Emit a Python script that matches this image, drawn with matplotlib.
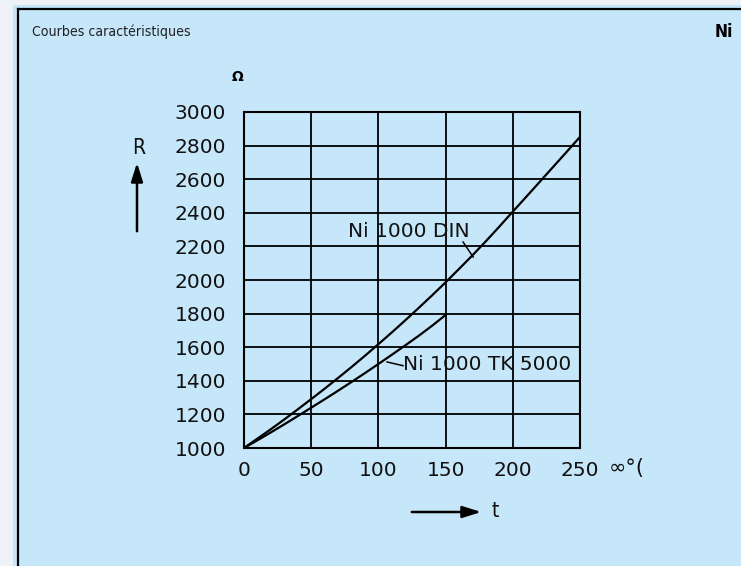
import matplotlib.pyplot as plt
from matplotlib.patches import Rectangle
from matplotlib.lines import Line2D

# data
temp_din = [0, 10, 20, 30, 40, 50, 60, 70, 80, 90, 100, 110, 120, 130, 140, 150,
            160, 170, 180, 190, 200, 210, 220, 230, 240, 250, 255]
res_din = [1000, 1056, 1112, 1170, 1230, 1291, 1353, 1417, 1482, 1549, 1618, 1688, 1760, 1834, 1909, 1986,
           2066, 2147, 2231, 2318, 2407, 2495, 2584, 2673, 2762, 2852, 2897]
temp_tk = [0, 10, 20, 30, 40, 50, 60, 70, 80, 90, 100, 110, 120, 130, 140, 150]
res_tk = [1000, 1046, 1093, 1141, 1190, 1240, 1290, 1341, 1393, 1446, 1500, 1555, 1611, 1668, 1728, 1792]
x_ticks = [0, 50, 100, 150, 200, 250]
y_ticks = [1000, 1200, 1400, 1600, 1800, 2000, 2200, 2400, 2600, 2800, 3000]

W, H = 741, 566
COND = dict(family='DejaVu Sans', stretch='condensed')


def px(x, y):
    return x / W, 1 - y / H


fig = plt.figure(figsize=(W / 100, H / 100), dpi=100, facecolor='#eef2f6')

# blue panel and its black frame
fig.patches.append(Rectangle(px(13, H), (W - 13) / W, (H - 5) / H, transform=fig.transFigure,
                             facecolor='#c6e6f9', edgecolor='none', zorder=-5))
fig.lines.append(Line2D([18 / W, 1], [1 - 9 / H] * 2, transform=fig.transFigure, color='black', lw=1.6))
fig.lines.append(Line2D([18 / W] * 2, [0, 1 - 9 / H], transform=fig.transFigure, color='black', lw=1.6))

ax = fig.add_axes([244 / W, 1 - 448 / H, 336 / W, 336 / H])
ax.set_zorder(2)
ax.set_facecolor('none')
ax.plot(temp_din, res_din, color='black', lw=1.6)
ax.plot(temp_tk, res_tk, color='black', lw=1.6)
ax.set_xlim(0, 250)
ax.set_ylim(1000, 3000)
ax.set_xticks(x_ticks)
ax.set_yticks(y_ticks)
ax.grid(True, color='black', lw=1.3)
for s in ax.spines.values():
    s.set_linewidth(1.5)
ax.tick_params(length=0, colors='#111111', labelsize=14.5)
ax.tick_params(axis='y', pad=13)
ax.tick_params(axis='x', pad=9)

# curve labels with leaders
ax.text(123, 2286, 'Ni 1000 DIN', fontsize=14.5, ha='center', va='center', color='#111111')
ax.plot([163, 170.5], [2226, 2137], color='black', lw=1.1)
ax.text(118.5, 1497, 'Ni 1000 TK 5000', fontsize=14.5, ha='left', va='center', color='#111111')
ax.plot([106.5, 118.3], [1512, 1490], color='black', lw=1.1)

fig.text(*px(32, 32), 'Courbes caractéristiques', fontsize=10.1, va='center', ha='left',
         color='#222222', **COND)
fig.text(*px(733, 32), 'Ni', fontsize=12.5, va='center', ha='right', weight='bold', **COND)
fig.text(*px(237, 77), 'Ω', fontsize=10, va='center', ha='center', weight='bold')
fig.text(*px(139, 148), 'R', fontsize=15, va='center', ha='center', color='#111111', **COND)
fig.text(*px(627, 468), '∞°(', fontsize=15, va='center', ha='center', color='#111111')
fig.text(*px(495, 511), 't', fontsize=15, va='center', ha='center', color='#111111', **COND)

ax.annotate('', xy=px(137, 160), xytext=px(137, 234), xycoords='figure fraction',
            textcoords='figure fraction', annotation_clip=False,
            arrowprops=dict(arrowstyle='-|>,head_length=0.7,head_width=0.22', color='black',
                            lw=1.8, mutation_scale=16))
ax.annotate('', xy=px(484, 512), xytext=px(409, 512), xycoords='figure fraction',
            textcoords='figure fraction', annotation_clip=False,
            arrowprops=dict(arrowstyle='-|>,head_length=0.7,head_width=0.22', color='black',
                            lw=1.8, mutation_scale=16))

fig.savefig('out.png', dpi=100, facecolor=fig.get_facecolor())
